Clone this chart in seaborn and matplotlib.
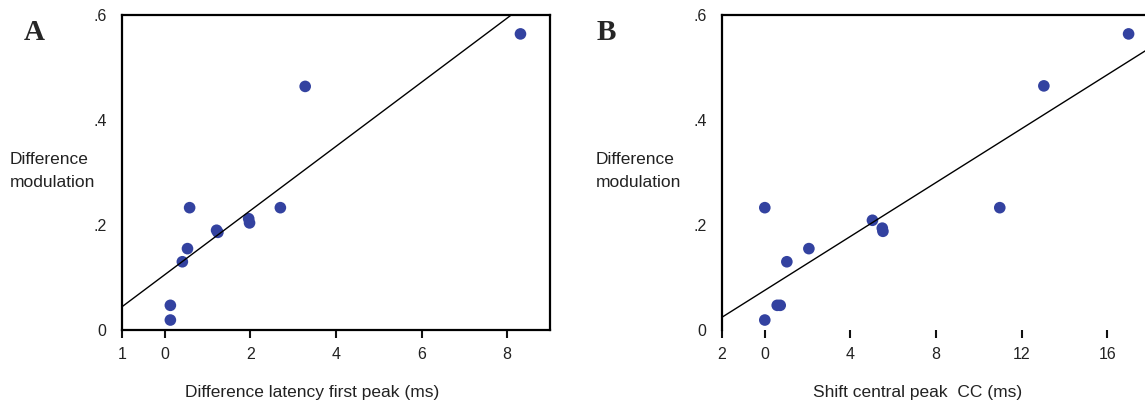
import numpy as np
import pandas as pd
import seaborn as sns
import matplotlib.pyplot as plt

# values
lat_a = [8.31, 3.28, 0.58, 2.70, 1.96, 1.98, 1.21, 1.24, 0.53, 0.41, 0.13, 0.13]
mod_a = [0.564, 0.464, 0.233, 0.233, 0.212, 0.204, 0.190, 0.186, 0.155, 0.130, 0.047, 0.019]

shift_b = [17.0, 13.04, 0.0, 10.98, 5.03, 5.49, 5.52, 2.06, 1.03, 0.58, 0.72, 0.0]
mod_b = [0.564, 0.465, 0.233, 0.233, 0.209, 0.194, 0.188, 0.155, 0.130, 0.047, 0.047, 0.019]

yticks = [0, 0.2, 0.4, 0.6]
ytick_labels = ["0", ".2", ".4", ".6"]
xticks_a = [-1, 0, 2, 4, 6, 8]
xtick_labels_a = ["1", "0", "2", "4", "6", "8"]
xticks_b = [-2, 0, 4, 8, 12, 16]
xtick_labels_b = ["2", "0", "4", "8", "12", "16"]

df_a = pd.DataFrame({"x": lat_a, "y": mod_a})
df_b = pd.DataFrame({"x": shift_b, "y": mod_b})

sns.set_style("white")
plt.rcParams['font.family'] = ['Liberation Sans', 'DejaVu Sans']

dot = "#3342a0"
txt = "#222222"

fig = plt.figure(figsize=(11.45, 4.03), dpi=100)
ax_a = fig.add_axes([122 / 1145, 73 / 403, 428 / 1145, 315 / 403])
ax_b = fig.add_axes([722 / 1145, 73 / 403, 428 / 1145, 315 / 403])

panels = [
    (ax_a, df_a, (-1, 9), xticks_a, xtick_labels_a, "Difference latency first peak (ms)", 0.444),
    (ax_b, df_b, (-2, 18), xticks_b, xtick_labels_b, "Shift central peak  CC (ms)", 0.458),
]

for ax, df, xlim, xt, xtl, xlab, xlab_pos in panels:
    # limits first so the fitted line runs across the whole box
    ax.set_xlim(*xlim)
    ax.set_ylim(0, 0.6)
    sns.regplot(data=df, x="x", y="y", ax=ax, ci=None, truncate=False,
                scatter_kws=dict(s=70, color=dot, edgecolor="none", alpha=1),
                line_kws=dict(color="black", lw=1.0))
    ax.set_xlim(*xlim)
    ax.set_ylim(0, 0.6)
    ax.set_xticks(xt)
    ax.set_xticklabels(xtl)
    ax.set_yticks(yticks)
    ax.set_yticklabels(ytick_labels)
    ax.tick_params(axis="y", length=0, pad=11, labelsize=11.5, labelcolor=txt)
    ax.tick_params(axis="x", direction="out", length=6, width=1.5, color="#111111",
                   pad=6, labelsize=11.5, labelcolor=txt, bottom=True)
    for s in ax.spines.values():
        s.set_color("black")
        s.set_linewidth(1.6)
    ax.set_xlabel(xlab, fontsize=12.5, color=txt)
    ax.xaxis.set_label_coords(xlab_pos, -0.175)
    ax.set_ylabel("")

# panel B has no bottom axis line, only the tick marks
ax_b.spines["bottom"].set_visible(False)
ax_a.get_xticklines()[2].set_color("#999999")

for x0 in (10, 596):
    fig.text(x0 / 1145, 1 - 171 / 403, "Difference\nmodulation", ha="left", va="center",
             fontsize=12.5, color=txt, linespacing=1.6)

fig.text(24 / 1145, 1 - 32 / 403, "A", fontsize=21, fontweight="bold",
         family="Liberation Serif", ha="left", va="center")
fig.text(597 / 1145, 1 - 32 / 403, "B", fontsize=21, fontweight="bold",
         family="Liberation Serif", ha="left", va="center")

plt.savefig("out.png", dpi=100)
